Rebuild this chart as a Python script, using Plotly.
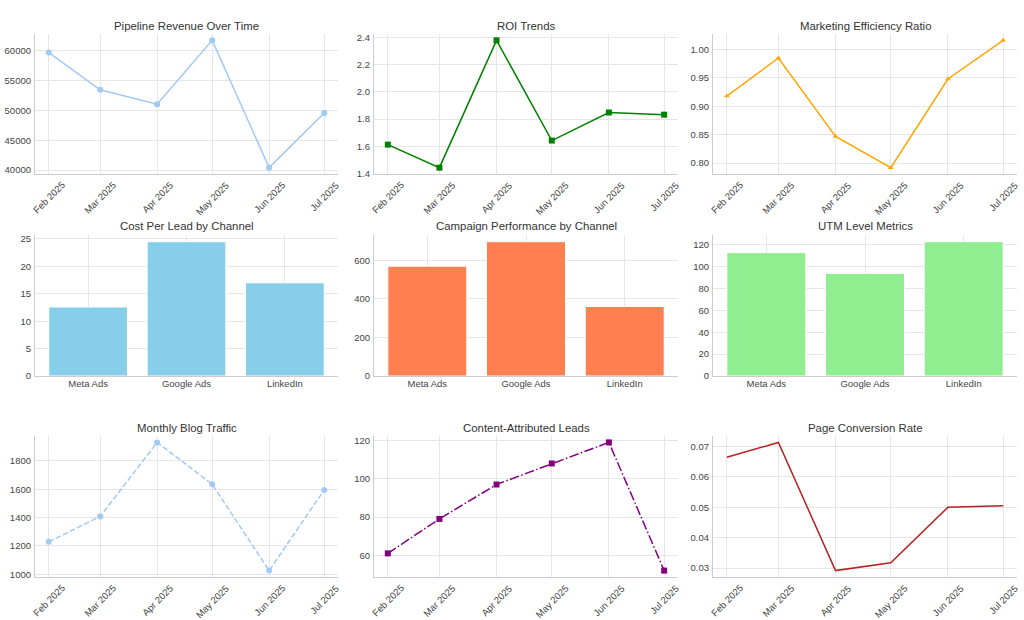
import plotly.graph_objects as go
from datetime import datetime

# ---- data ----
months = ["2025-02-01", "2025-03-01", "2025-04-01", "2025-05-01", "2025-06-01", "2025-07-01"]
month_labels = ["Feb 2025", "Mar 2025", "Apr 2025", "May 2025", "Jun 2025", "Jul 2025"]
channels = ["Meta Ads", "Google Ads", "LinkedIn"]

pipeline_revenue = [59700, 53450, 51050, 61750, 40400, 49550]
roi = [1.612, 1.443, 2.378, 1.642, 1.848, 1.832]
efficiency = [0.918, 0.985, 0.847, 0.792, 0.948, 1.016]
cost_per_lead = [12.6, 24.5, 17.0]
campaign_perf = [570, 697, 361]
utm_metrics = [113, 94, 123]
blog_traffic = [1229, 1408, 1930, 1635, 1026, 1595]
content_leads = [61, 79, 97, 108, 119, 52]
conversion_rate = [0.0664, 0.0713, 0.0292, 0.0318, 0.0500, 0.0505]

titles = ["Pipeline Revenue Over Time", "ROI Trends", "Marketing Efficiency Ratio",
          "Cost Per Lead by Channel", "Campaign Performance by Channel", "UTM Level Metrics",
          "Monthly Blog Traffic", "Content-Attributed Leads", "Page Conversion Rate"]

W, H = 1024, 620
cols_px = [(35, 338), (374, 678), (713, 1017)]
rows_px = [(34, 174), (235, 376), (436, 577)]

FONT = "Liberation Sans, Arial, sans-serif"
GRID = "#e6e6e6"
SPINE = "#cccccc"
TICKC = "#444444"
TICKSIZE = 9.5
TITLESIZE = 11.4

fig = go.Figure()

def pad_range(vals, lo_zero=False):
    lo, hi = min(vals), max(vals)
    if lo_zero:
        return [0, hi + 0.05 * hi]
    d = (hi - lo) * 0.05
    return [lo - d, hi + d]

dates = [datetime.strptime(m, "%Y-%m-%d") for m in months]
span = dates[-1] - dates[0]
xdate_range = [(dates[0] - span * 0.05).strftime("%Y-%m-%d %H:%M"),
               (dates[-1] + span * 0.05).strftime("%Y-%m-%d %H:%M")]

specs = [
    dict(kind="line", y=pipeline_revenue, color="#a1c9f4", symbol="circle", dash="solid", dtick=5000, fmt="d"),
    dict(kind="line", y=roi, color="green", symbol="square", dash="solid", dtick=0.2, fmt=".1f"),
    dict(kind="line", y=efficiency, color="orange", symbol="triangle-up", dash="solid", dtick=0.05, fmt=".2f"),
    dict(kind="bar", y=cost_per_lead, color="skyblue", dtick=5, fmt="d"),
    dict(kind="bar", y=campaign_perf, color="coral", dtick=200, fmt="d"),
    dict(kind="bar", y=utm_metrics, color="lightgreen", dtick=20, fmt="d"),
    dict(kind="line", y=blog_traffic, color="#a1c9f4", symbol="circle", dash="5.5px,2.4px", dtick=200, fmt="d"),
    dict(kind="line", y=content_leads, color="purple", symbol="square", dash="9.6px,2.4px,1.5px,2.4px", dtick=20, fmt="d"),
    dict(kind="line", y=conversion_rate, color="firebrick", symbol=None, dash="solid", dtick=0.01, fmt=".2f"),
]

annotations = []
for i, s in enumerate(specs):
    r, c = divmod(i, 3)
    n = i + 1
    xa = "x" if n == 1 else f"x{n}"
    ya = "y" if n == 1 else f"y{n}"
    x0, x1 = cols_px[c]
    y0, y1 = rows_px[r]
    xdom = [x0 / W, x1 / W]
    ydom = [1 - y1 / H, 1 - y0 / H]

    if s["kind"] == "line":
        mode = "lines+markers" if s["symbol"] else "lines"
        msize = 5 if s["symbol"] == "triangle-up" else 6
        fig.add_trace(go.Scatter(
            x=months, y=s["y"], mode=mode, xaxis=xa, yaxis=ya,
            line=dict(color=s["color"], width=1.5, dash=s["dash"]),
            marker=dict(symbol=s["symbol"] or "circle", size=msize, color=s["color"]),
            showlegend=False))
        xaxis = dict(domain=xdom, anchor=ya, type="date", range=xdate_range,
                     tickvals=months, showticklabels=False)
        yr = pad_range(s["y"])
        # rotated month labels centred under each tick (axis-positioned annotations)
        for m, lab in zip(months, month_labels):
            annotations.append(dict(text=lab, x=m, xref=xa, y=1 - (y1 + 4) / H, yref="paper",
                                    showarrow=False, textangle=-45, xanchor="center",
                                    yanchor="top", borderpad=0,
                                    font=dict(family=FONT, size=TICKSIZE, color=TICKC)))
    else:
        fig.add_trace(go.Bar(
            x=channels, y=s["y"], xaxis=xa, yaxis=ya, width=0.8,
            marker=dict(color=s["color"], line=dict(color="white", width=1)),
            showlegend=False))
        xaxis = dict(domain=xdom, anchor=ya, type="category", range=[-0.54, 2.54], tickangle=0,
                     ticklabelstandoff=-2)
        yr = pad_range(s["y"], lo_zero=True)

    xaxis.update(showgrid=True, gridcolor=GRID, gridwidth=1, showline=True, linecolor=SPINE,
                 linewidth=1.2, ticks="", ticklen=0, zeroline=False, automargin=False,
                 tickfont=dict(family=FONT, size=TICKSIZE, color=TICKC))
    yaxis = dict(domain=ydom, anchor=xa, range=yr, dtick=s["dtick"], tickformat=s["fmt"],
                 showgrid=True, gridcolor=GRID, gridwidth=1, showline=True, linecolor=SPINE,
                 linewidth=1.2, ticks="", ticklen=0, zeroline=False, automargin=False,
                 ticklabelstandoff=1,
                 tickfont=dict(family=FONT, size=TICKSIZE, color=TICKC))
    key = "" if n == 1 else str(n)
    fig.update_layout(**{f"xaxis{key}": xaxis, f"yaxis{key}": yaxis})

    annotations.append(dict(text=titles[i], x=(x0 + x1) / 2 / W, y=1 - (y0 - 8.5) / H,
                            xref="paper", yref="paper", showarrow=False,
                            xanchor="center", yanchor="middle",
                            font=dict(family=FONT, size=TITLESIZE, color="#333333")))

fig.update_layout(width=W, height=H, margin=dict(l=0, r=0, t=0, b=0),
                  paper_bgcolor="white", plot_bgcolor="white",
                  annotations=annotations, font=dict(family=FONT))

fig.write_html("out.html")
